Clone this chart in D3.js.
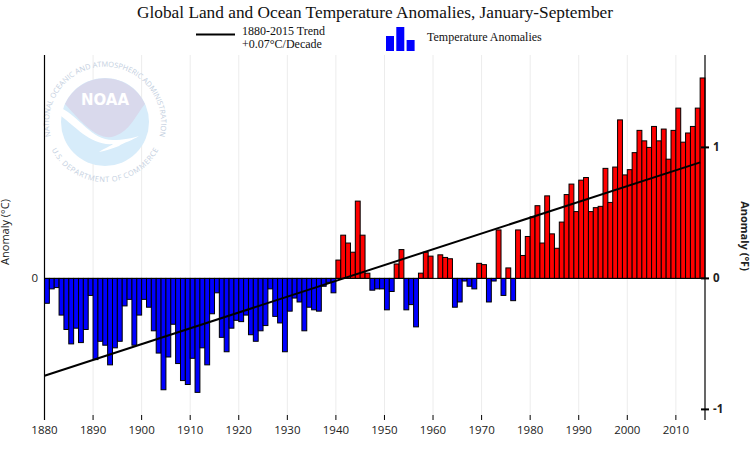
<!DOCTYPE html>
<html>
<head>
<meta charset="utf-8">
<script src="https://cdnjs.cloudflare.com/ajax/libs/d3/7.8.5/d3.min.js"></script>
<style>
  html, body { margin: 0; padding: 0; background: #fff; }
  svg { display: block; }
  .serif { font-family: "Liberation Serif", serif; fill: #111; }
  .sans { font-family: "Open Sans", "DejaVu Sans", sans-serif; fill: #222; }
</style>
</head>
<body>
<div id="chart"></div>
<script>
'use strict';

var startYear = 1880;
// anomalies in deg F, 1880..2015
var anomalies = [
  -0.19, -0.08, -0.07, -0.28, -0.39, -0.50, -0.38, -0.49, -0.39, -0.13,
  -0.62, -0.48, -0.51, -0.66, -0.53, -0.48, -0.21, -0.16, -0.51, -0.28,
  -0.16, -0.22, -0.40, -0.57, -0.85, -0.60, -0.35, -0.65, -0.78, -0.81,
  -0.61, -0.87, -0.53, -0.66, -0.27, -0.11, -0.45, -0.56, -0.38, -0.32,
  -0.33, -0.28, -0.43, -0.48, -0.40, -0.36, -0.08, -0.29, -0.34, -0.56,
  -0.25, -0.15, -0.18, -0.40, -0.22, -0.24, -0.25, -0.06, -0.03, -0.11,
  0.14, 0.33, 0.27, 0.20, 0.59, 0.33, 0.04, -0.09, -0.08, -0.08,
  -0.24, -0.10, 0.11, 0.22, -0.24, -0.20, -0.37, 0.04, 0.20, 0.17,
  0, 0.18, 0.16, 0.15, -0.22, -0.18, -0.02, -0.06, -0.08, 0.115,
  0.105, -0.18, -0.02, 0.37, -0.13, 0.08, -0.17, 0.37, 0.175, 0.32,
  0.47, 0.555, 0.27, 0.63, 0.34, 0.23, 0.43, 0.64, 0.72, 0.51,
  0.75, 0.77, 0.51, 0.54, 0.55, 0.84, 0.58, 0.85, 1.21, 0.79,
  0.83, 0.96, 1.13, 1.05, 1.00, 1.16, 1.05, 1.14, 0.91, 1.13,
  1.30, 1.04, 1.11, 1.16, 1.30, 1.53
];
var decadeTicks = [1880, 1890, 1900, 1910, 1920, 1930, 1940, 1950, 1960, 1970, 1980, 1990, 2000, 2010];
var rightTicks = [-1, 0, 1];
var trendYears = [1880, 2015];
var trendValues = [-0.743, 0.886];
var legendBars = [15, 24, 11];

var width = 750, height = 450;
var plotLeft = 44.5, plotRight = 705, plotTop = 55, plotBottom = 420;

var svg = d3.select("#chart").append("svg")
  .attr("width", width)
  .attr("height", height);

var years = anomalies.map(function (d, i) { return startYear + i; });

// year scale, the band starts at the year's value
var x = d3.scaleLinear().domain([startYear, startYear + anomalies.length]).range([plotLeft, plotRight]);
// 131px for one degree F, zero at 278.4
var y = d3.scaleLinear().domain([-1, 1]).range([409.4, 147.4]);

// gridlines
svg.append("g").selectAll("line")
  .data(decadeTicks.slice(1))
  .enter().append("line")
  .attr("x1", function (d) { return x(d); })
  .attr("x2", function (d) { return x(d); })
  .attr("y1", plotTop)
  .attr("y2", plotBottom - 5)
  .attr("stroke", "#ececec")
  .attr("stroke-width", 1);

// logo sits under the bars
function drawLogo() {
  var cx = 105, cy = 122, r = 44;
  var g = svg.append("g").attr("transform", "translate(" + cx + "," + cy + ")");
  g.append("circle").attr("r", r).attr("fill", "#d7ecfa");
  g.append("path")
    .attr("d", "M-40,-18 A44,44 0 0 1 40,-18 C30,-6 26,8 10,14 C-6,20 -22,2 -40,-18 Z")
    .attr("fill", "#d9d9ec");
  g.append("path")
    .attr("d", "M-44,-14 C-26,-6 -14,18 8,18 C18,18 28,16 34,14 C28,18 18,21 14,24 C8,26 0,29 -6,30 C0,26 6,24 8,22 C-14,24 -30,4 -44,-6 Z")
    .attr("fill", "#fff");
  g.append("text")
    .attr("text-anchor", "middle")
    .attr("y", -17)
    .attr("fill", "#fff")
    .style("font", "bold 15px 'DejaVu Sans', sans-serif")
    .text("NOAA");
  var defs = g.append("defs");
  defs.append("path").attr("id", "logoTop")
    .attr("d", "M-50,26 A56,56 0 1 1 50,26");
  defs.append("path").attr("id", "logoBottom")
    .attr("d", "M-50,20 A54,54 0 0 0 50,20");
  g.append("text").attr("fill", "#c4cfe0").style("font", "7.4px 'Open Sans', sans-serif")
    .append("textPath").attr("href", "#logoTop").attr("startOffset", "50%").attr("text-anchor", "middle")
    .text("NATIONAL OCEANIC AND ATMOSPHERIC ADMINISTRATION");
  g.append("text").attr("fill", "#c4cfe0").style("font", "7.4px 'Open Sans', sans-serif")
    .append("textPath").attr("href", "#logoBottom").attr("startOffset", "50%").attr("text-anchor", "middle")
    .attr("dominant-baseline", "hanging")
    .text("U.S. DEPARTMENT OF COMMERCE");
}
drawLogo();

// bars
svg.append("g").selectAll("rect")
  .data(anomalies)
  .enter().append("rect")
  .attr("x", function (d, i) { return x(years[i]); })
  .attr("width", x(startYear + 1) - x(startYear))
  .attr("y", function (d) { return d > 0 ? y(d) : y(0); })
  .attr("height", function (d) { return Math.abs(y(d) - y(0)); })
  .attr("fill", function (d) { return d > 0 ? "#ff0000" : "#0000ff"; })
  .attr("stroke", "#000")
  .attr("stroke-width", 1);

// zero line
svg.append("line")
  .attr("x1", plotLeft).attr("x2", plotRight)
  .attr("y1", y(0)).attr("y2", y(0))
  .attr("stroke", "#000").attr("stroke-width", 1);

// trend
var trendLine = d3.line()
  .x(function (d, i) { return x(trendYears[i]); })
  .y(function (d) { return y(d); });
svg.append("path")
  .attr("d", trendLine(trendValues))
  .attr("fill", "none")
  .attr("stroke", "#000")
  .attr("stroke-width", 2);

// axes lines
svg.append("line").attr("x1", plotLeft).attr("x2", plotLeft).attr("y1", plotTop).attr("y2", plotBottom)
  .attr("stroke", "#000").attr("stroke-width", 1.2);
svg.append("line").attr("x1", plotRight).attr("x2", plotRight).attr("y1", plotTop).attr("y2", plotBottom)
  .attr("stroke", "#000").attr("stroke-width", 1.2);

// bottom ticks
var xTicks = svg.append("g").selectAll("g")
  .data(decadeTicks)
  .enter().append("g");
xTicks.append("line")
  .attr("x1", function (d) { return x(d); })
  .attr("x2", function (d) { return x(d); })
  .attr("y1", plotBottom - 5)
  .attr("y2", plotBottom)
  .attr("stroke", "#000");
xTicks.append("text")
  .attr("class", "sans")
  .attr("x", function (d) { return x(d); })
  .attr("y", 434)
  .attr("text-anchor", "middle")
  .style("font-size", "11.5px")
  .text(function (d) { return d; });

// right ticks
var rTicks = svg.append("g").selectAll("g")
  .data(rightTicks)
  .enter().append("g");
rTicks.append("line")
  .attr("x1", plotRight - 4)
  .attr("x2", plotRight + 4)
  .attr("y1", function (d) { return y(d); })
  .attr("y2", function (d) { return y(d); })
  .attr("stroke", "#000")
  .attr("stroke-width", 2);
rTicks.append("text")
  .attr("class", "sans")
  .attr("x", plotRight + 8)
  .attr("y", function (d) { return y(d) + 4; })
  .style("font-size", "11.5px")
  .style("font-weight", "bold")
  .text(function (d) { return d; });

// left zero tick
svg.append("text").attr("class", "sans")
  .attr("x", 38).attr("y", y(0) + 4)
  .attr("text-anchor", "end")
  .style("font-size", "11.5px")
  .text("0");

// axis titles
svg.append("text").attr("class", "sans")
  .attr("transform", "translate(9,232) rotate(-90)")
  .attr("text-anchor", "middle")
  .style("font-size", "11px")
  .text("Anomaly (°C)");
svg.append("text").attr("class", "sans")
  .attr("transform", "translate(741,236) rotate(90)")
  .attr("text-anchor", "middle")
  .style("font-size", "11px")
  .style("font-weight", "bold")
  .text("Anomaly (°F)");

// title
svg.append("text").attr("class", "serif")
  .attr("x", 375).attr("y", 18)
  .attr("text-anchor", "middle")
  .style("font-size", "17.3px")
  .text("Global Land and Ocean Temperature Anomalies, January-September");

// legend
svg.append("line").attr("x1", 196).attr("x2", 235).attr("y1", 34.5).attr("y2", 34.5)
  .attr("stroke", "#000").attr("stroke-width", 2);
svg.append("text").attr("class", "serif").attr("x", 242).attr("y", 35)
  .style("font-size", "12px").text("1880-2015 Trend");
svg.append("text").attr("class", "serif").attr("x", 242).attr("y", 48)
  .style("font-size", "12px").text("+0.07°C/Decade");
svg.append("g").selectAll("rect")
  .data(legendBars)
  .enter().append("rect")
  .attr("x", function (d, i) { return 386 + i * 10.3; })
  .attr("y", function (d) { return 51 - d; })
  .attr("width", 8)
  .attr("height", function (d) { return d; })
  .attr("fill", "#0000ff");
svg.append("text").attr("class", "serif").attr("x", 427).attr("y", 41)
  .style("font-size", "12px").text("Temperature Anomalies");
</script>
</body>
</html>
